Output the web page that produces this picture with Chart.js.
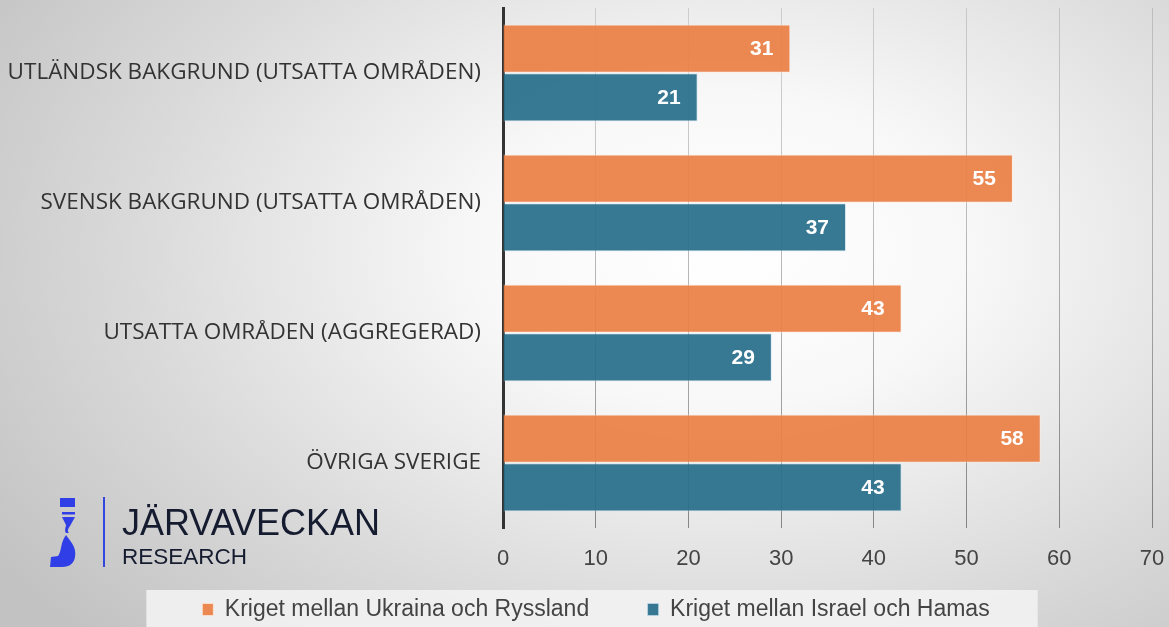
<!DOCTYPE html>
<html>
<head>
<meta charset="utf-8">
<script src="https://cdn.jsdelivr.net/npm/chart.js@4.4.1/dist/chart.umd.min.js"></script>
<style>
  html, body { margin: 0; padding: 0; }
  body {
    width: 1169px; height: 627px; overflow: hidden; position: relative;
    background: radial-gradient(ellipse 75% 90% at 62% 40%, #ffffff 0%, #f8f8f8 28%, #d9d9d9 68%, #c2c2c2 100%);
  }
  #wrap { position: absolute; left: 0; top: 0; width: 1169px; height: 627px; }
  #logo { position: absolute; left: 0; top: 480px; width: 400px; height: 100px; }
  .brand { position: absolute; left: 122px; font-family: 'Liberation Sans', Arial, sans-serif; color: #161c30; }
  .b1 { top: 22px; font-size: 36px; }
  .b2 { top: 64px; font-size: 22.5px; }
</style>
</head>
<body>
<div id="wrap"><canvas id="chart" width="1169" height="627"></canvas></div>
<div id="logo">
  <svg width="120" height="100" viewBox="0 480 120 100" style="position:absolute;left:0;top:0">
    <rect x="60" y="498" width="15" height="9" fill="#2f3ee6"/>
    <rect x="62" y="512" width="13" height="2.5" fill="#2f3ee6"/>
    <path d="M62 517 L75 517 L70 526 C68 529 67 531 69 533 L66 533 C64 530 66 527 66 525 Z" fill="#2f3ee6"/>
    <path d="M66 535 C70 541 77 547 75 557 C74 563 70 567 62 567 L50 567 L51 557 L58 556 C62 551 60 543 66 535 Z" fill="#2f3ee6"/>
    <rect x="103" y="497" width="2" height="70" fill="#3346e0"/>
  </svg>
  <div class="brand b1">JÄRVAVECKAN</div>
  <div class="brand b2">RESEARCH</div>
</div>
<script>
const categories = [
  'UTLÄNDSK BAKGRUND (UTSATTA OMRÅDEN)',
  'SVENSK BAKGRUND (UTSATTA OMRÅDEN)',
  'UTSATTA OMRÅDEN (AGGREGERAD)',
  'ÖVRIGA SVERIGE'
];
const seriesNames = ['Kriget mellan Ukraina och Ryssland', 'Kriget mellan Israel och Hamas'];
const ukrainaValues = [31, 55, 43, 58];
const israelValues = [21, 37, 29, 43];
const xTickValues = [0, 10, 20, 30, 40, 50, 60, 70];

const plainFont = "'Liberation Sans', Arial, sans-serif";

// white numbers inside the bar ends
const valueLabels = {
  id: 'valueLabels',
  afterDatasetsDraw(chart) {
    const ctx = chart.ctx;
    ctx.save();
    ctx.font = "bold 21px " + plainFont;
    ctx.fillStyle = '#ffffff';
    ctx.textAlign = 'right';
    ctx.textBaseline = 'middle';
    chart.data.datasets.forEach((ds, i) => {
      chart.getDatasetMeta(i).data.forEach((bar, j) => {
        ctx.fillText(String(ds.data[j]), bar.x - 17, bar.y + 1);
      });
    });
    ctx.restore();
  }
};

// light panel behind the legend
const legendPanel = {
  id: 'legendPanel',
  beforeDraw(chart) {
    const lg = chart.legend;
    if (!lg || !lg.legendHitBoxes.length) return;
    const boxes = lg.legendHitBoxes;
    const left = boxes[0].left - 56;
    const last = boxes[boxes.length - 1];
    const right = last.left + last.width + 48;
    const top = boxes[0].top - 8;
    const ctx = chart.ctx;
    ctx.save();
    ctx.fillStyle = 'rgba(242,242,242,0.9)';
    ctx.fillRect(left, top, right - left, chart.height - top);
    ctx.restore();
  }
};

// let the long category names use the space left of the y axis box
const widenLabels = {
  id: 'widenLabels',
  afterLayout(chart) { chart.scales.y.left = 0; }
};

function gridColor(c) {
  if (c.tick && c.tick.value === 0) return 'rgba(0,0,0,0)';
  const area = c.chart.chartArea;
  if (!area) return 'rgba(0,0,0,0.25)';
  const g = c.chart.ctx.createLinearGradient(0, area.top, 0, area.bottom);
  g.addColorStop(0, 'rgba(0,0,0,0.13)');
  g.addColorStop(1, 'rgba(0,0,0,0.42)');
  return g;
}

new Chart(document.getElementById('chart'), {
  type: 'bar',
  data: {
    labels: categories,
    datasets: [
      {
        label: seriesNames[0],
        data: ukrainaValues,
        backgroundColor: 'rgba(234,127,68,0.92)',
        borderColor: 'rgba(255,235,220,0.7)',
        borderWidth: 1,
        categoryPercentage: 0.75,
        barPercentage: 0.99
      },
      {
        label: seriesNames[1],
        data: israelValues,
        backgroundColor: 'rgba(40,110,139,0.93)',
        borderColor: 'rgba(200,225,240,0.6)',
        borderWidth: 1,
        categoryPercentage: 0.75,
        barPercentage: 0.99
      }
    ]
  },
  options: {
    indexAxis: 'y',
    responsive: false,
    animation: false,
    layout: { padding: { top: 8, right: 17, left: 40, bottom: -4 } },
    scales: {
      x: {
        min: 0, max: 70,
        afterBuildTicks: s => { s.ticks = xTickValues.map(v => ({ value: v })); },
        grid: { color: gridColor, lineWidth: 1, drawTicks: false },
        border: { display: false },
        ticks: { color: '#444', font: { family: plainFont, size: 22 }, padding: 18 },
        afterFit: s => { s.height = 48; s.paddingLeft = 0; s.paddingRight = 0; }
      },
      y: {
        grid: { display: false, drawTicks: false },
        border: { color: '#333', width: 3 },
        ticks: { color: '#333', font: { family: "'Open Sans', sans-serif", size: 22.5 }, padding: 22 },
        afterFit: s => { s.width = 463; s.paddingTop = 0; s.paddingBottom = 0; }
      }
    },
    plugins: {
      legend: {
        position: 'bottom',
        labels: {
          boxWidth: 11, boxHeight: 12,
          padding: 22,
          color: '#444',
          font: { family: plainFont, size: 23 },
          // wider gap after the first entry
          generateLabels: chart => {
            const items = Chart.defaults.plugins.legend.labels.generateLabels(chart);
            items[0].text = items[0].text + '\u2003\u2002\u200a';
            return items;
          }
        }
      },
      tooltip: { enabled: false }
    }
  },
  plugins: [widenLabels, legendPanel, valueLabels]
});
</script>
</body>
</html>
